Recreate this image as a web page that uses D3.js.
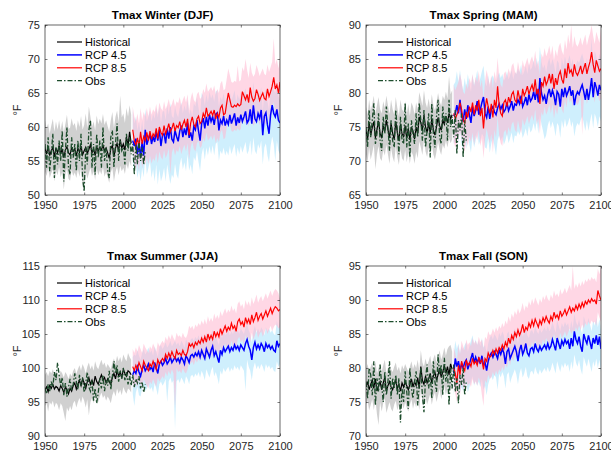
<!DOCTYPE html>
<html>
<head>
<meta charset="utf-8">
<script src="https://cdn.jsdelivr.net/npm/d3@7"></script>
<style>
  body { margin: 0; background: #fff; }
  svg { display: block; font-family: "Liberation Sans", Arial, sans-serif; }
  .tick text { fill: #262626; font-size: 11px; }
</style>
</head>
<body>
<svg id="chart" width="611" height="452"></svg>
<script>
// years
let histYears = d3.range(1950, 2006);
let obsYears = d3.range(1950, 2015);
let rcpYears = d3.range(2006, 2101);
let xTicks = [1950, 1975, 2000, 2025, 2050, 2075, 2100];

// ---- Winter (DJF)
let winterHist = [56.8,56.0,57.2,55.8,56.5,57.0,55.6,56.9,56.2,57.3, 56.0,56.8,55.5,56.6,57.1,56.2,55.9,57.0,56.4,56.8, 55.7,56.9,56.3,57.2,55.9,56.5,57.0,56.1,56.7,57.4, 56.2,56.8,55.8,57.1,56.4,57.0,56.6,57.3,56.5,56.9, 56.2,55.4,56.8,57.3,55.6,56.9,57.6,56.4,58.2,56.9, 57.5,56.6,58.6,57.2,59.3,57.6];
let winterHistLo = [53.5,52.8,54.0,52.5,53.2,53.8,52.0,53.6,52.9,54.1, 52.6,53.4,50.8,53.0,53.9,52.4,52.1,53.7,52.8,53.3, 52.5,53.8,52.7,54.0,51.5,50.5,53.6,52.4,53.2,54.0, 52.8,53.5,52.2,53.9,52.9,53.6,53.0,54.1,52.7,53.4, 52.6,51.8,53.3,54.0,52.0,53.4,54.2,52.9,54.3,53.5, 54.0,53.1,54.6,53.8,55.0,54.2];
let winterHistHi = [61.0,59.8,60.5,59.0,60.2,61.2,59.3,60.8,59.6,61.0, 59.5,60.9,59.2,60.4,61.8,59.7,59.9,61.3,60.2,60.6, 59.4,61.0,60.0,61.6,59.6,60.3,62.0,59.8,63.0,61.5, 60.0,60.8,59.5,61.7,60.4,61.2,60.5,61.9,60.3,61.0, 60.1,59.3,61.0,62.2,59.8,61.5,62.4,60.7,64.6,61.4, 62.0,60.6,62.8,61.5,63.2,61.8];
let winterObs = [57.5,54.0,58.5,53.5,56.0,59.0,52.5,57.0,54.5,58.0, 55.0,59.5,52.0,56.5,60.0,54.0,53.0,58.5,55.5,57.5, 53.5,58.0,55.0,59.0,52.5,50.5,57.0,54.5,59.5,61.0, 54.0,57.5,53.0,59.0,55.5,58.0,54.0,60.0,55.0,57.0, 53.5,52.5,58.5,59.5,54.0,57.5,60.5,55.0,58.0,56.5, 57.0,54.5,59.0,56.5,58.5,56.0,57.5,53.0,57.5,54.5, 58.0,55.0,57.0,54.5,56.5];
let winter45 = [58.0,57.2,58.3,56.0,57.6,55.6,57.8,55.8,59.6,57.4, 58.2,59.0,57.5,58.6,57.8,59.3,58.0,59.6,57.2,58.8, 59.0,57.6,59.8,58.3,60.0,58.2,57.8,59.5,58.6,57.9, 59.4,60.2,58.5,59.8,58.8,60.6,58.4,59.2,58.0,60.1, 59.6,61.0,59.4,58.0,60.5,61.3,59.8,61.5,60.2,61.8, 60.8,61.5,60.3,61.9,62.1,59.5,61.0,60.5,61.6,60.2, 61.0,60.4,61.8,60.5,61.2,62.0,60.2,61.4,60.6,61.8, 60.8,61.5,62.3,60.6,61.0,62.6,60.5,63.2,61.2,60.8, 62.0,61.3,62.5,58.8,61.6,62.1,60.3,59.0,61.8,63.2, 62.0,61.5,62.6,61.0,60.6];
let winter45Lo = [55.0,53.5,54.5,52.5,53.8,52.0,54.0,52.6,55.5,53.0, 54.0,55.0,52.5,53.8,52.0,54.5,51.5,53.8,52.0,52.8, 54.0,52.0,54.5,53.0,51.6,53.0,52.5,54.6,53.0,52.4, 54.5,55.5,53.8,54.8,53.5,56.0,53.6,54.5,53.0,55.6, 55.0,56.5,54.8,53.5,56.0,57.0,55.2,57.0,55.8,57.2, 56.0,57.3,55.8,57.5,57.8,55.0,56.5,56.0,57.0,55.8, 56.5,55.8,57.2,56.0,56.8,57.5,55.6,57.0,56.0,57.2, 56.2,57.0,57.8,56.0,56.5,58.0,55.8,58.5,56.5,56.0, 57.5,56.8,58.0,54.5,57.0,57.6,55.8,54.8,57.2,58.6, 57.5,55.0,58.0,56.5,56.0];
let winter45Hi = [62.5,60.5,61.5,59.5,60.8,59.2,61.0,59.0,62.6,60.8, 61.5,62.4,60.8,62.0,61.2,62.8,61.4,63.0,60.6,62.2, 62.4,61.0,63.2,61.8,63.5,61.6,61.3,63.0,62.0,61.4, 62.8,63.6,62.0,63.2,62.3,64.0,61.8,62.6,61.5,63.5, 63.0,64.4,62.8,61.5,65.0,64.6,63.2,64.8,63.6,65.2, 64.2,64.8,63.7,65.2,65.4,63.0,64.4,63.9,65.0,63.6, 64.4,63.8,65.2,63.9,64.6,65.4,63.6,64.8,64.0,65.2, 64.2,65.0,65.7,64.0,64.4,66.0,63.9,66.6,64.6,64.2, 65.4,64.7,65.9,62.3,65.0,65.5,63.7,62.5,65.2,66.6, 65.4,65.0,66.0,64.5,64.0];
let winter85 = [59.6,58.0,57.3,58.4,57.0,59.3,57.5,58.6,58.0,59.2, 58.0,59.4,58.2,59.0,58.6,59.8,58.3,60.0,59.2,58.8, 60.2,59.0,59.6,60.5,59.3,59.8,60.6,59.4,60.2,59.9, 60.8,59.6,60.4,61.0,60.0,61.2,58.8,60.6,61.5,60.4, 60.0,61.2,61.6,60.5,60.8,62.0,61.4,62.8,61.6,61.9, 62.3,61.7,62.5,61.2,62.0,61.4,62.8,63.2,61.8,62.0, 63.5,65.0,64.0,63.0,62.9,63.2,63.0,63.4,63.1,63.3, 65.2,64.6,64.0,64.8,63.6,65.8,64.4,63.8,64.2,65.5, 64.8,63.9,64.5,65.0,64.2,64.0,65.6,64.5,65.2,66.0, 67.3,65.6,66.2,65.0,66.6];
let winter85Lo = [56.0,54.5,53.8,55.0,53.5,55.8,54.0,55.0,54.5,55.6, 54.5,55.8,54.6,55.4,55.0,56.2,54.7,56.4,55.6,55.2, 56.6,55.4,56.0,56.9,53.0,56.2,57.0,55.8,56.6,56.3, 57.2,56.0,56.8,57.4,56.4,57.6,55.2,57.0,57.9,56.8, 56.4,57.6,58.0,56.9,57.2,58.4,57.8,59.2,58.0,58.3, 58.7,58.1,58.9,57.6,58.4,57.8,59.2,59.6,58.2,58.4, 59.9,61.4,60.4,59.4,59.3,59.6,59.4,59.8,59.5,59.7, 61.6,61.0,60.4,61.2,60.0,62.2,60.8,60.2,60.6,61.9, 61.2,60.3,60.9,61.4,60.6,60.4,62.0,60.9,61.6,62.4, 63.7,62.0,62.6,61.4,63.0];
let winter85Hi = [63.0,61.5,60.8,62.0,60.5,62.8,61.0,62.2,61.5,62.8, 61.5,63.0,61.8,62.6,62.2,63.4,61.9,63.6,62.8,62.4, 63.8,62.6,63.2,64.1,62.9,63.4,64.2,63.0,63.8,63.5, 64.4,63.2,64.0,64.6,63.6,64.8,62.4,64.2,65.1,64.0, 63.6,64.8,65.2,64.1,64.4,65.6,65.0,66.4,65.2,65.5, 65.9,65.3,66.1,64.8,65.6,65.0,66.4,66.8,65.4,65.6, 67.1,68.6,67.6,66.6,66.5,66.8,66.6,69.0,66.7,66.9, 68.8,68.2,70.0,68.4,67.2,69.4,68.0,67.4,67.8,69.1, 68.4,67.5,68.1,68.6,67.8,67.6,69.2,68.1,68.8,69.6, 73.0,69.2,70.0,68.6,70.2];

// ---- Spring (MAM)
let springHist = [74.5,73.2,75.6,73.8,74.9,75.8,73.4,74.6,75.9,74.0, 73.5,75.2,74.3,76.0,74.6,73.4,75.5,74.1,73.2,75.8, 74.2,73.0,75.4,74.0,73.6,75.2,73.3,74.8,73.1,75.0, 74.4,73.2,75.0,74.0,76.5,75.6,74.5,76.8,75.0,74.2, 75.6,74.0,76.2,74.6,73.8,75.0,76.4,75.2,74.5,76.0, 75.4,76.6,75.6,77.0,76.2,76.8];
let springHistLo = [71.0,69.8,72.0,70.2,71.2,72.4,68.8,71.0,72.2,70.4, 70.0,71.6,70.8,72.4,71.0,69.6,72.0,70.6,69.8,72.2, 70.6,69.4,71.8,70.4,70.0,71.6,69.8,71.2,69.6,71.4, 70.8,69.6,71.4,70.4,72.9,72.0,70.9,73.2,71.4,70.6, 72.0,70.4,72.6,71.0,70.2,71.4,72.8,71.6,70.9,72.4, 71.8,73.0,72.0,73.4,72.6,73.2];
let springHistHi = [78.0,76.8,79.0,77.4,78.4,79.6,76.9,78.2,79.4,77.6, 77.0,78.8,77.8,79.6,78.2,76.9,79.0,77.6,76.8,79.4, 77.8,76.6,79.0,77.6,77.2,78.8,76.8,78.4,76.6,78.6, 78.0,76.8,78.6,77.6,80.1,79.2,78.1,80.4,78.6,77.8, 79.2,77.6,79.8,78.2,77.4,78.6,80.0,78.8,78.1,79.6, 79.0,80.2,79.2,82.5,79.8,80.4];
let springObs = [75.0,72.0,77.5,73.5,76.0,78.5,72.5,74.0,77.0,73.0, 71.5,76.5,74.0,78.0,75.0,71.5,76.0,73.0,72.0,77.5, 74.5,71.0,76.5,73.0,72.5,78.5,72.0,75.5,70.5,76.0, 74.0,72.5,77.0,73.5,78.5,76.0,73.0,77.5,72.0,74.5, 77.0,70.5,78.5,74.0,72.0,76.5,79.0,73.5,72.5,78.0, 75.5,77.0,73.0,79.0,75.0,76.5,73.5,77.5,71.0,76.0, 74.5,77.0,70.5,76.0,73.0];
let spring45 = [76.6,77.0,78.2,77.0,79.0,76.8,75.8,77.6,76.2,78.2, 76.8,75.6,78.0,76.6,77.4,78.8,76.8,77.6,78.6,79.4, 77.0,76.4,78.0,76.2,77.6,78.0,77.2,76.8,77.8,78.4, 77.6,78.2,77.2,77.6,78.6,77.4,78.0,78.8,77.4,78.4, 78.2,79.0,78.4,79.6,78.0,78.6,79.4,78.2,79.8,78.8, 79.2,80.2,79.0,80.6,78.6,82.2,80.0,79.0,79.6,78.4, 79.8,80.6,79.4,80.4,79.6,78.2,80.2,79.8,78.0,80.6, 79.4,80.8,79.6,80.2,81.0,79.6,80.4,78.2,79.6,80.2, 79.8,80.6,81.2,80.2,79.0,80.6,79.0,80.4,82.2,79.4, 81.6,80.8,79.6,81.2,80.4];
let spring45Lo = [72.5,73.0,74.0,72.6,74.8,72.4,71.6,73.2,71.8,73.8, 72.4,71.2,73.6,72.0,73.0,74.4,72.4,73.0,74.0,73.6, 72.0,71.8,73.4,71.2,72.6,73.4,72.2,70.8,73.0,73.8, 73.0,73.6,72.4,73.0,74.0,72.6,73.4,74.2,72.6,73.8, 73.6,74.4,73.8,75.0,73.4,74.0,74.8,73.6,75.2,74.2, 74.6,75.6,74.4,76.0,74.0,76.8,75.4,74.4,73.2,73.8, 75.2,76.0,74.8,75.8,75.0,73.6,75.6,75.2,73.4,76.0, 74.8,76.2,75.0,75.6,76.4,75.0,75.8,73.6,75.0,75.6, 75.2,76.0,76.6,75.6,74.4,76.0,74.4,75.8,77.0,74.8, 77.0,76.2,75.0,76.6,75.8];
let spring45Hi = [81.2,81.6,83.2,81.6,83.4,81.4,80.4,82.2,80.8,82.8, 81.4,80.2,82.6,81.2,82.0,83.4,81.4,82.2,83.2,84.0, 81.6,81.0,82.6,80.8,82.2,82.6,81.8,81.4,82.4,83.0, 82.2,82.8,81.8,82.2,83.2,82.0,82.6,83.4,82.0,83.0, 82.8,83.6,83.0,84.2,82.6,83.2,84.0,82.8,84.4,83.4, 83.8,84.8,83.6,85.2,83.2,86.8,84.6,83.6,84.2,83.0, 84.4,85.2,84.0,85.0,84.2,82.8,84.8,84.4,82.6,85.2, 84.0,85.4,84.2,84.8,85.6,84.2,85.0,82.8,84.2,84.8, 84.4,85.2,85.8,84.8,83.6,85.2,83.6,85.0,88.0,84.0, 86.2,85.4,84.2,85.8,85.0];
let spring85 = [77.0,76.2,76.8,77.4,78.6,77.6,76.0,75.6,77.2,76.4, 78.0,77.2,78.6,76.8,78.2,77.4,79.0,76.6,77.8,74.8, 77.6,79.2,78.0,77.0,78.4,76.4,79.0,77.8,81.0,78.2, 77.0,76.6,78.6,79.0,78.0,79.4,78.6,79.8,80.2,79.0, 78.6,80.4,79.2,78.4,80.6,79.6,80.2,81.0,79.8,80.6, 81.2,80.2,82.0,79.8,80.6,78.4,81.6,81.0,82.4,81.2, 81.8,82.8,81.4,82.8,80.6,82.2,81.2,82.6,83.2,82.0, 81.4,83.6,82.2,84.4,83.0,83.4,82.4,84.2,83.0,82.6, 83.2,84.0,82.8,83.6,84.4,82.8,83.8,84.6,86.0,84.2, 83.0,84.8,84.0,83.2,83.6];
let spring85Lo = [72.8,72.0,72.6,73.2,74.4,73.4,71.8,71.4,73.0,72.2, 73.6,72.8,74.2,72.4,73.8,73.0,74.6,72.2,73.4,70.4, 73.2,74.8,73.6,72.6,74.0,71.2,74.6,73.4,76.6,73.8, 72.6,72.2,74.2,74.6,73.6,75.0,74.2,75.4,75.8,74.6, 74.2,76.0,74.8,74.0,76.2,75.2,75.8,76.6,75.4,76.2, 76.8,75.8,77.6,75.4,76.2,74.0,77.2,76.6,78.0,76.8, 77.4,78.4,77.0,78.4,76.2,77.8,76.8,78.2,78.8,77.6, 77.0,79.2,77.8,80.0,78.6,79.0,78.0,79.8,78.6,78.2, 78.8,79.6,73.8,79.2,80.0,78.4,79.4,80.2,81.6,79.8, 78.6,80.4,79.6,78.8,79.2];
let spring85Hi = [81.2,80.4,81.0,81.6,82.8,81.8,80.2,79.8,81.4,80.6, 82.2,81.4,82.8,81.0,82.4,81.6,83.2,80.8,82.0,79.0, 81.8,83.4,82.2,81.2,82.6,80.6,83.2,82.0,85.2,82.4, 81.2,80.8,82.8,83.2,82.2,83.6,82.8,84.0,84.4,83.2, 82.8,84.6,83.4,82.6,84.8,83.8,84.4,85.2,84.0,84.8, 85.4,84.4,86.2,84.0,84.8,82.6,85.8,85.2,86.6,85.4, 86.0,87.0,85.6,87.0,84.8,86.4,85.4,86.8,87.4,86.2, 85.6,87.8,86.4,88.6,87.2,90.0,86.6,88.4,87.2,86.8, 87.4,88.2,87.0,87.8,88.6,87.0,88.0,88.8,90.0,88.4, 87.2,89.0,88.2,87.4,89.6];

// ---- Summer (JJA)
let summerHist = [96.8,97.2,96.5,97.4,97.0,97.6,96.9,97.3,97.1,96.6, 97.4,97.0,96.4,97.2,96.8,96.2,97.0,96.6,97.4,97.8, 96.9,97.6,98.2,97.4,98.4,97.8,97.0,98.0,98.6,97.6, 98.2,97.4,98.8,98.0,97.6,98.4,99.0,98.2,98.6,97.8, 98.4,98.0,97.6,98.6,99.2,98.4,99.6,98.8,99.4,98.6, 99.8,99.2,98.8,99.6,99.4,99.0];
let summerHistLo = [94.4,94.8,93.6,95.0,94.6,95.2,94.2,94.9,94.6,93.8, 94.8,94.4,93.4,92.2,94.2,93.6,94.4,93.8,94.8,95.2, 94.2,95.0,95.6,94.8,95.8,95.2,94.2,95.4,93.0,95.0, 95.6,94.8,96.2,95.4,95.0,95.8,96.4,95.6,96.0,95.2, 95.8,95.4,94.8,96.0,96.6,95.8,97.0,96.2,96.8,96.0, 97.2,96.6,96.2,97.0,96.8,96.4];
let summerHistHi = [99.0,99.4,98.8,99.6,99.2,99.8,99.1,99.5,99.3,98.8, 99.6,99.2,98.6,99.4,99.0,98.4,99.2,98.8,99.6,100.0, 99.1,99.8,100.4,99.6,100.6,100.0,99.2,100.2,100.8,99.8, 100.4,99.6,101.0,100.2,99.8,100.6,101.2,100.4,100.8,100.0, 100.6,100.2,99.8,100.8,101.4,100.6,101.8,101.0,101.6,100.8, 102.0,101.4,101.0,102.2,101.6,101.2];
let summerObs = [97.0,96.2,97.6,96.6,98.0,97.2,99.4,98.2,100.8,99.0, 97.4,98.6,96.0,97.8,95.8,97.2,98.4,96.6,97.6,99.2, 98.0,96.8,99.0,97.4,98.6,96.4,97.8,99.4,97.2,96.6, 98.2,95.2,97.0,94.8,96.4,98.4,97.0,99.0,96.6,98.2, 97.4,99.6,96.8,98.8,101.0,99.2,100.4,98.0,99.6,98.4, 100.0,98.2,99.4,97.6,98.8,97.4,99.0,97.2,98.4,97.8, 98.8,97.0,98.0,96.4,97.6];
let summer45 = [99.0,99.6,99.2,100.2,99.4,98.8,99.8,100.4,99.6,100.0, 100.6,99.8,100.2,99.4,100.8,100.0,99.2,100.6,101.0,100.4, 100.8,101.4,100.6,101.0,101.6,100.8,101.2,101.6,101.0,101.4, 100.8,101.6,101.2,100.6,101.8,101.4,100.8,101.8,102.0,101.6, 102.2,101.8,102.4,101.6,102.6,102.0,101.4,102.8,102.2,101.6, 102.6,103.2,101.8,102.4,101.6,100.8,102.6,102.0,103.0,102.4, 102.8,103.2,102.4,103.0,102.6,103.4,102.8,103.2,102.6,103.4, 103.0,102.6,103.6,104.2,103.2,102.6,101.2,103.0,103.8,102.8, 103.4,102.8,103.6,103.2,102.4,103.6,103.0,103.4,102.8,103.2, 102.6,102.4,104.0,103.2,103.6];
let summer45Lo = [96.2,94.4,96.4,97.2,96.0,95.8,97.0,97.4,96.6,97.0, 97.6,96.8,97.2,96.4,97.8,97.0,96.0,97.6,98.0,97.4, 97.8,98.4,95.0,98.0,98.6,97.8,98.2,91.0,98.0,98.4, 97.8,98.6,98.2,97.6,98.8,98.4,97.6,98.8,99.0,98.6, 99.2,98.8,99.4,98.6,99.6,99.0,98.2,99.8,99.2,98.6, 99.6,100.2,98.8,99.4,98.6,97.6,99.6,99.0,100.0,99.4, 99.8,100.2,99.4,100.0,99.6,100.4,99.8,100.2,99.6,100.4, 100.0,99.6,96.6,101.2,100.2,99.6,98.2,100.0,100.8,99.8, 100.4,99.8,100.6,100.2,99.4,100.6,100.0,100.4,99.8,100.2, 99.6,99.4,101.0,100.2,100.6];
let summer45Hi = [101.6,102.0,101.8,102.6,101.8,101.2,102.2,102.8,102.0,102.4, 103.0,102.2,102.6,101.8,103.2,102.4,101.6,103.0,103.4,102.8, 103.2,103.8,103.0,103.4,104.0,103.2,103.6,104.0,103.4,103.8, 103.2,104.0,103.6,103.0,104.2,103.8,103.2,104.2,104.4,104.0, 104.6,104.2,104.8,104.0,105.0,104.4,103.8,105.2,104.6,104.0, 105.0,105.6,104.2,104.8,104.0,103.4,105.0,104.4,105.4,104.8, 105.2,105.6,104.8,105.4,105.0,105.8,105.2,105.6,105.0,105.8, 105.4,105.0,106.0,106.6,105.6,105.0,103.8,105.4,106.2,105.2, 105.8,105.2,106.0,105.6,104.8,106.0,105.4,105.8,105.2,105.6, 105.0,104.8,107.0,105.8,106.8];
let summer85 = [100.2,99.6,100.4,99.8,100.8,100.2,99.6,101.0,100.4,100.0, 99.6,100.6,100.2,101.0,100.4,99.8,101.2,100.6,101.0,101.4, 101.0,102.0,101.4,102.2,101.6,102.4,101.8,101.4,102.6,102.0, 102.2,101.8,102.6,102.0,101.8,102.4,103.6,103.2,103.6,103.0, 103.8,103.4,104.0,103.6,104.4,103.8,104.6,103.8,105.0,104.2, 104.8,104.2,105.4,104.6,105.2,104.6,105.8,105.0,105.6,106.2, 105.4,106.0,105.6,106.6,105.8,106.2,105.4,106.8,107.2,106.4, 106.8,106.0,107.4,106.6,107.2,106.4,107.8,106.8,107.4,108.2, 107.0,107.6,108.0,107.2,107.8,108.4,107.6,108.2,108.8,108.0, 108.6,109.0,108.8,108.4,108.6];
let summer85Lo = [97.6,97.0,97.8,97.2,98.2,97.6,97.0,98.4,97.8,97.4, 97.0,98.0,97.6,98.4,97.8,97.2,98.6,98.0,98.4,98.8, 98.4,99.4,98.8,99.6,99.0,99.8,99.2,94.0,100.0,99.4, 99.6,99.2,100.0,99.4,99.2,99.8,101.0,100.6,101.0,100.4, 101.2,100.8,101.4,101.0,101.8,101.2,102.0,101.2,102.4,101.6, 102.2,101.6,102.8,102.0,102.6,102.0,103.2,102.4,103.0,103.6, 102.8,103.4,103.0,104.0,103.2,103.6,102.8,104.2,104.6,103.8, 104.2,103.4,104.8,104.0,104.6,103.8,105.2,104.2,104.8,105.6, 104.4,105.0,105.4,104.6,105.2,105.8,105.0,105.6,106.2,105.4, 106.0,106.4,106.2,105.8,106.0];
let summer85Hi = [102.8,102.2,103.0,102.4,103.4,102.8,102.2,103.6,103.0,102.6, 102.2,103.2,102.8,103.6,103.0,102.4,103.8,103.2,103.6,104.0, 103.6,104.6,104.0,104.8,104.2,105.0,104.4,104.0,105.2,104.6, 104.8,104.4,105.2,104.6,104.4,105.0,106.2,105.8,106.2,105.6, 106.4,106.0,106.6,106.2,107.0,106.4,107.2,106.4,107.6,106.8, 107.4,106.8,108.0,107.2,107.8,107.2,108.4,107.6,108.2,108.8, 108.0,108.6,108.2,109.2,108.4,108.8,108.0,109.4,109.8,109.0, 109.4,108.6,110.0,109.2,109.8,109.0,110.4,109.4,110.0,110.8, 109.6,110.2,110.6,109.8,110.4,111.0,110.2,110.8,111.4,110.6, 111.2,111.6,111.4,111.0,110.2];

// ---- Fall (SON)
let fallHist = [77.2,78.0,76.8,77.6,78.2,77.0,78.4,76.6,77.4,78.0, 76.8,77.8,78.6,76.6,77.4,78.0,77.2,76.8,77.6,78.2, 77.0,77.6,76.6,77.8,77.2,78.0,77.4,76.8,77.6,78.4, 77.2,78.0,77.4,78.6,77.0,80.2,78.2,77.6,78.8,77.8, 78.4,79.2,77.8,78.8,79.4,78.2,79.0,80.0,78.6,79.4, 80.4,79.2,80.2,79.0,80.6,79.8];
let fallHistLo = [74.6,75.2,73.8,74.6,75.4,73.8,75.4,73.2,71.6,75.0, 73.6,74.8,75.6,73.4,74.2,75.0,74.0,73.6,74.6,75.2, 73.8,74.6,73.4,74.8,74.0,75.0,74.2,73.6,74.6,75.4, 74.0,75.0,74.2,75.6,73.8,77.0,75.0,74.4,75.8,74.6, 75.4,76.2,74.6,75.8,76.4,75.0,76.0,77.0,75.4,76.4, 77.4,76.0,77.2,75.8,77.6,76.6];
let fallHistHi = [79.8,80.6,79.4,80.2,80.8,79.6,81.0,79.2,80.0,80.6, 79.4,80.4,81.2,79.2,80.0,80.6,79.8,79.4,80.2,80.8, 79.6,80.2,79.2,80.4,79.8,80.6,80.0,79.4,80.2,81.0, 79.8,80.6,80.0,81.2,79.6,82.6,80.8,80.2,81.4,80.4, 81.0,81.8,80.4,81.4,82.0,80.8,81.6,82.6,81.2,82.0, 83.0,81.8,82.8,83.2,83.4,82.4];
let fallObs = [78.0,75.5,80.0,79.0,76.0,81.0,74.5,78.5,76.5,80.5, 77.5,75.0,79.5,76.0,78.0,81.0,75.5,78.5,77.0,79.0, 76.0,78.5,72.0,77.0,75.0,79.5,76.5,74.0,80.0,77.0, 75.5,78.0,79.5,74.5,77.5,80.0,76.0,73.5,78.5,80.5, 77.0,79.0,75.5,81.0,78.0,76.5,82.0,79.0,80.5,76.0, 81.5,78.0,79.5,74.5,80.0,77.0,80.5,76.5,78.5,74.8, 79.0,77.5,80.0,76.0,78.0];
let fall45 = [79.2,81.4,80.2,81.0,79.6,80.6,80.0,80.8,81.2,79.8, 80.6,81.4,82.2,80.8,81.6,80.8,81.4,80.6,81.8,80.4, 80.8,79.6,81.0,81.8,82.2,81.6,82.4,82.0,81.4,82.6, 82.0,82.8,82.2,80.6,82.4,82.8,81.4,82.0,82.6,83.2, 82.4,81.0,82.6,83.4,82.0,82.6,83.6,82.2,81.8,82.8, 83.0,82.4,83.6,82.8,82.4,83.2,82.6,83.0,83.4,82.8, 83.6,82.8,83.2,84.2,83.4,82.6,84.4,83.6,82.8,84.0, 83.4,84.2,83.6,84.0,82.8,84.4,83.2,85.4,84.2,83.6, 84.6,83.2,82.4,85.0,84.2,83.6,84.8,83.8,82.8,84.4, 83.6,84.8,83.4,84.6,82.8];
let fall45Lo = [76.0,78.2,77.0,77.6,76.4,77.2,76.6,77.4,77.8,76.4, 77.2,78.0,78.8,77.4,78.2,77.4,78.0,77.2,78.4,76.8, 77.4,76.0,77.6,78.4,78.8,78.2,79.0,78.6,76.8,79.2, 78.6,79.4,78.8,77.0,79.0,79.4,77.8,78.6,79.2,79.8, 79.0,77.6,79.2,80.0,78.6,79.2,80.2,78.8,78.4,79.4, 79.6,79.0,80.2,79.4,79.0,79.8,79.2,79.6,80.0,79.4, 80.2,79.4,79.8,80.8,80.0,79.2,81.0,80.2,79.4,80.6, 80.0,80.8,80.2,80.6,79.4,81.0,79.8,82.0,80.8,80.2, 81.2,79.8,79.0,81.6,80.8,80.2,81.4,80.4,79.4,81.0, 80.2,81.4,80.0,81.2,79.4];
let fall45Hi = [82.0,84.0,82.8,83.6,82.2,83.2,82.6,83.4,83.8,82.4, 83.2,84.0,84.8,83.4,84.2,83.4,84.0,83.2,84.4,83.0, 83.4,82.2,83.6,84.4,84.8,84.2,85.0,84.6,84.0,85.2, 84.6,85.4,84.8,83.2,85.0,85.4,84.0,84.6,85.2,85.8, 85.0,83.6,85.2,86.0,84.6,85.2,86.2,84.8,84.4,85.4, 85.6,85.0,86.2,85.4,85.0,85.8,85.2,85.6,86.0,85.4, 86.2,85.4,85.8,86.8,86.0,85.2,87.0,86.2,85.4,86.6, 86.0,86.8,86.2,86.6,85.4,87.0,85.8,88.0,86.8,86.2, 87.2,85.8,85.0,87.6,86.8,86.2,87.4,86.4,85.4,87.0, 86.2,87.4,86.0,87.2,85.4];
let fall85 = [80.0,79.2,77.8,80.4,79.0,81.0,80.2,79.6,81.2,80.4, 80.8,80.2,81.4,80.6,81.0,80.4,81.6,80.8,81.2,79.8, 81.4,81.0,82.2,81.6,81.8,82.6,82.0,82.8,82.2,83.0, 82.6,83.4,82.8,83.8,83.2,84.4,83.6,84.8,84.2,85.2, 84.6,85.6,84.8,85.4,86.4,85.2,86.0,85.6,86.6,86.0, 87.0,86.2,87.2,86.6,86.0,87.0,86.4,87.4,86.8,87.6, 87.0,86.6,87.6,87.0,88.2,87.4,87.8,87.2,88.4,87.6, 88.0,88.6,87.8,88.4,89.0,88.2,88.8,88.4,89.2,88.6, 89.4,88.8,89.6,89.0,89.8,89.4,90.0,89.6,90.2,89.8, 90.0,89.4,91.4,90.6,90.0];
let fall85Lo = [77.0,76.2,75.0,77.4,76.0,78.0,77.2,76.6,78.2,77.4, 77.8,77.2,78.4,77.6,78.0,77.4,78.6,77.8,76.0,74.4, 78.2,77.8,79.0,78.4,78.6,79.4,78.8,79.6,79.0,79.8, 79.4,80.2,79.6,80.6,80.0,81.2,80.4,81.6,81.0,82.0, 81.4,82.4,81.6,82.2,83.2,82.0,82.8,82.4,83.4,82.8, 83.8,83.0,84.0,83.4,82.8,83.8,83.2,84.2,83.6,84.4, 83.8,83.4,84.4,83.8,85.0,84.2,84.6,84.0,85.2,84.4, 84.8,85.4,84.6,85.2,85.8,85.0,85.6,85.2,86.0,85.4, 86.2,85.6,86.4,85.8,86.6,86.2,86.8,86.4,87.0,86.6, 86.8,86.2,88.2,87.4,86.8];
let fall85Hi = [83.0,82.2,81.0,83.4,82.0,84.0,83.2,82.6,84.2,83.4, 83.8,83.2,84.4,83.6,84.0,83.4,84.6,83.8,84.2,82.8, 84.6,84.2,85.4,84.8,85.0,85.8,85.2,86.0,85.4,86.2, 85.8,86.6,86.0,87.0,86.4,87.6,86.8,88.0,87.4,88.4, 87.8,88.8,88.0,88.6,89.6,88.4,89.2,88.8,89.8,89.2, 90.2,89.4,90.4,89.8,89.2,90.2,89.6,90.6,90.0,90.8, 90.2,89.8,90.8,90.2,91.4,90.6,91.0,90.4,91.6,90.8, 91.2,91.8,91.0,91.6,92.2,91.4,95.0,91.6,92.4,91.8, 92.6,92.0,92.8,92.2,93.0,92.6,93.2,92.8,93.4,93.0, 93.2,92.6,94.6,93.8,95.0];

let legendLabels = ["Historical", "RCP 4.5", "RCP 8.5", "Obs"];

let panels = [
  { title: "Tmax Winter (DJF)", left: 45, top: 25, yDomain: [50, 75],
    hist: winterHist, histLo: winterHistLo, histHi: winterHistHi, obs: winterObs,
    r45: winter45, r45Lo: winter45Lo, r45Hi: winter45Hi, r85: winter85, r85Lo: winter85Lo, r85Hi: winter85Hi },
  { title: "Tmax Spring (MAM)", left: 366, top: 25, yDomain: [65, 90],
    hist: springHist, histLo: springHistLo, histHi: springHistHi, obs: springObs,
    r45: spring45, r45Lo: spring45Lo, r45Hi: spring45Hi, r85: spring85, r85Lo: spring85Lo, r85Hi: spring85Hi },
  { title: "Tmax Summer (JJA)", left: 45, top: 266, yDomain: [90, 115],
    hist: summerHist, histLo: summerHistLo, histHi: summerHistHi, obs: summerObs,
    r45: summer45, r45Lo: summer45Lo, r45Hi: summer45Hi, r85: summer85, r85Lo: summer85Lo, r85Hi: summer85Hi },
  { title: "Tmax Fall (SON)", left: 366, top: 266, yDomain: [70, 95],
    hist: fallHist, histLo: fallHistLo, histHi: fallHistHi, obs: fallObs,
    r45: fall45, r45Lo: fall45Lo, r45Hi: fall45Hi, r85: fall85, r85Lo: fall85Lo, r85Hi: fall85Hi }
];

let w = 235, h = 170;
let axisColor = "#262626";
let svg = d3.select("#chart");

panels.forEach(function (p, i) {
  let g = svg.append("g").attr("transform", "translate(" + p.left + "," + p.top + ")");

  let x = d3.scaleLinear().domain([1950, 2100]).range([0, w]);
  let y = d3.scaleLinear().domain(p.yDomain).range([h, 0]);

  g.append("clipPath").attr("id", "clip" + i)
    .append("rect").attr("width", w).attr("height", h);

  let plot = g.append("g").attr("clip-path", "url(#clip" + i + ")");

  function band(years, lo, hi) {
    return d3.area()
      .x(function (d, k) { return x(years[k]); })
      .y0(function (d, k) { return y(lo[k]); })
      .y1(function (d, k) { return y(hi[k]); })(lo);
  }
  function line(years, vals) {
    return d3.line()
      .x(function (d, k) { return x(years[k]); })
      .y(function (d) { return y(d); })(vals);
  }

  // shaded ranges
  plot.append("path").attr("d", band(histYears, p.histLo, p.histHi))
    .attr("fill", "#c8c8c8").attr("opacity", 0.85);
  plot.append("path").attr("d", band(rcpYears, p.r45Lo, p.r45Hi))
    .attr("fill", "#bfeafc").attr("opacity", 0.75);
  plot.append("path").attr("d", band(rcpYears, p.r85Lo, p.r85Hi))
    .attr("fill", "#ffb6d0").attr("opacity", 0.55);

  // lines
  plot.append("path").attr("d", line(histYears, p.hist))
    .attr("fill", "none").attr("stroke", "#000").attr("stroke-width", 1.2);
  plot.append("path").attr("d", line(rcpYears, p.r45))
    .attr("fill", "none").attr("stroke", "#0000ff").attr("stroke-width", 1.5);
  plot.append("path").attr("d", line(rcpYears, p.r85))
    .attr("fill", "none").attr("stroke", "#ff0000").attr("stroke-width", 1.2);
  plot.append("path").attr("d", line(obsYears, p.obs))
    .attr("fill", "none").attr("stroke", "#1d4d2c").attr("stroke-width", 1.3)
    .attr("stroke-dasharray", "5,2,1.5,2");

  // axes, MATLAB style: box with inward ticks
  let xAxis = g.append("g").attr("transform", "translate(0," + h + ")")
    .call(d3.axisBottom(x).tickValues(xTicks).tickFormat(d3.format("d")).tickSizeInner(-2.5).tickSizeOuter(0).tickPadding(6));
  let yAxis = g.append("g")
    .call(d3.axisLeft(y).ticks(5).tickSizeInner(-2.5).tickSizeOuter(0).tickPadding(5));
  g.append("g")
    .call(d3.axisTop(x).tickValues(xTicks).tickFormat("").tickSizeInner(-2.5).tickSizeOuter(0));
  g.append("g").attr("transform", "translate(" + w + ",0)")
    .call(d3.axisRight(y).ticks(5).tickFormat("").tickSizeInner(-2.5).tickSizeOuter(0));
  g.selectAll(".domain").remove();
  g.selectAll(".tick line").attr("stroke", axisColor).attr("stroke-width", 0.6);

  g.append("rect").attr("width", w).attr("height", h)
    .attr("fill", "none").attr("stroke", axisColor).attr("stroke-width", 0.7);

  // title and y label
  g.append("text").attr("x", w / 2).attr("y", -6)
    .attr("text-anchor", "middle").attr("font-size", 11.5).attr("font-weight", "bold")
    .attr("fill", "#000").text(p.title);
  g.append("text")
    .attr("transform", "translate(-24," + (h / 2) + ") rotate(-90)")
    .attr("text-anchor", "middle").attr("font-size", 11).attr("fill", axisColor)
    .text("°F");

  // legend
  let styles = [
    { color: "#000", width: 1.2, dash: null },
    { color: "#0000ff", width: 1.5, dash: null },
    { color: "#ff0000", width: 1.2, dash: null },
    { color: "#1d4d2c", width: 1.3, dash: "5,2,1.5,2" }
  ];
  let leg = g.append("g").attr("transform", "translate(12,17)");
  legendLabels.forEach(function (lab, k) {
    let ly = k * 12.9;
    leg.append("line").attr("x1", 0).attr("x2", 25).attr("y1", ly).attr("y2", ly)
      .attr("stroke", styles[k].color).attr("stroke-width", styles[k].width)
      .attr("stroke-dasharray", styles[k].dash);
    leg.append("text").attr("x", 28).attr("y", ly + 4)
      .attr("font-size", 11).attr("fill", "#000").text(lab);
  });
});
</script>
</body>
</html>
